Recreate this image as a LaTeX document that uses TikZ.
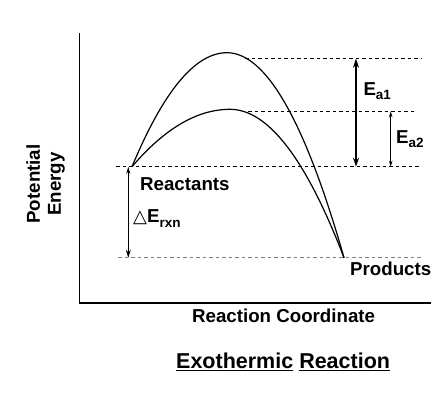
\documentclass[tikz,border=0pt]{standalone}
\usepackage{fontspec}
\setmainfont{Liberation Sans}
\newfontfamily\symfont{DejaVu Sans}
\usetikzlibrary{arrows.meta}
\newcommand\lowsub[1]{\raisebox{-4.3pt}{\fontsize{13.5}{14}\selectfont #1}}
\tikzset{
  lbl/.style={font=\fontsize{18.7}{21}\selectfont\bfseries, inner sep=0pt, anchor=base west},
  curve/.style={line width=1.2pt},
  axis/.style={line width=1.3pt},
  lvl/.style={line width=1.1pt, dash pattern=on 3.5pt off 3pt},
  bigarr/.style={line width=1.2pt, {Stealth[length=9pt,width=6pt]}-{Stealth[length=9pt,width=6pt]}},
  smallarr/.style={line width=1pt, {Stealth[length=6pt,width=3.5pt]}-{Stealth[length=6pt,width=3.5pt]}},
}
\begin{document}
\begin{tikzpicture}[x=1pt,y=-1pt]
\useasboundingbox (0,0) rectangle (444,392);
% key coordinates
\coordinate (R) at (132,166.7);
\coordinate (P) at (344,257.7);
\coordinate (T1) at (227,52.7);
\coordinate (T2) at (230,109.3);
% axes
\coordinate (ytop) at (79.3,33);
\coordinate (orig) at (79.3,303);
\coordinate (xend) at (431,303);
\draw[axis] (ytop) -- (orig) -- (xend);
% level lines
\coordinate (rl0) at (116,166.7); \coordinate (rl1) at (421,166.7);
\coordinate (pl0) at (118,257.7); \coordinate (pl1) at (421,257.7);
\coordinate (a10) at (245,58.7); \coordinate (a11) at (422,58.7);
\coordinate (a20) at (248,111.3); \coordinate (a21) at (417,111.3);
\draw[lvl, black] (rl0) -- (rl1);
\draw[lvl, gray] (pl0) -- (pl1);
\draw[lvl, black] (a10) -- (a11);
\draw[lvl, black] (a20) -- (a21);
% curves
\draw[curve] (R) .. controls (163.67,90.7) and (195.33,52.7) .. (T1)
                 .. controls (266,52.7) and (305,121.03) .. (P);
\draw[curve] (R) .. controls (164.67,128.43) and (197.33,109.3) .. (T2)
                 .. controls (268,109.3) and (306,158.77) .. (P);
% arrows
\coordinate (e1t) at (356,58.7); \coordinate (e1b) at (356,166.7);
\coordinate (e2t) at (390.7,111.3); \coordinate (e2b) at (390.7,166.7);
\coordinate (dt) at (128.3,166.7); \coordinate (db) at (128.3,257.7);
\draw[bigarr] (e1t) -- (e1b);
\draw[smallarr] (e2t) -- (e2b);
\draw[line width=1.1pt, {Stealth[length=7pt,width=4pt]}-{Stealth[length=8pt,width=5pt]}] (dt) -- (db);
% labels
\node[lbl] (ea1) at (363.3,95) {E\lowsub{a1}};
\node[lbl] (ea2) at (396,143.3) {E\lowsub{a2}};
\node[lbl] (react) at (140,190) {Reactants};
\node[lbl] (drxn) at (133,222.7) {{\symfont\fontsize{18}{18}\selectfont\mdseries △}E\lowsub{rxn}};
\node[lbl] (prod) at (350,275) {Products};
\node[lbl] (xlab) at (192,322.3) {Reaction Coordinate};
\node[lbl, font=\fontsize{21.5}{24}\selectfont\bfseries] (title) at (176,368.3) {\underline{Exothermic} \underline{Reaction}};
\node[font=\fontsize{18.7}{21}\selectfont\bfseries, rotate=90, align=center, inner sep=0pt] (ylab) at (45.5,184) {Potential\\Energy};
\end{tikzpicture}
\end{document}
